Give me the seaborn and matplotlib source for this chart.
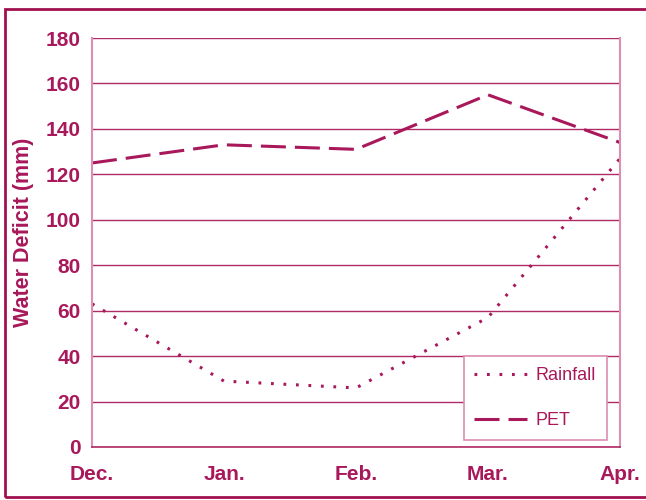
import matplotlib
matplotlib.use("Agg")
import matplotlib.pyplot as plt
import seaborn as sns
import pandas as pd
from matplotlib.patches import Rectangle

months = ["Dec.", "Jan.", "Feb.", "Mar.", "Apr."]
rainfall = [63, 29, 26, 57, 127]
pet = [125, 133, 131, 155, 134]
y_ticks = [0, 20, 40, 60, 80, 100, 120, 140, 160, 180]

MAG = "#A8185A"
GRID = "#B02A66"
SPINE = "#DC8FB2"

sns.set_theme(style="white")
plt.rcParams["font.family"] = ["Liberation Sans", "DejaVu Sans"]
plt.rcParams["lines.scale_dashes"] = False

DOT = (2.0, 7.0)
DASH = (18, 6.5)

df = pd.DataFrame({"pos": range(len(months)), "month": months,
                   "Rainfall": rainfall, "PET": pet})
long = df.melt(id_vars=["pos", "month"], value_vars=["Rainfall", "PET"],
               var_name="series", value_name="value")

fig = plt.figure(figsize=(6.46, 5.0), dpi=100)
ax = fig.add_axes([92/646, 53/500, 528/646, 409/500])

sns.lineplot(data=long, x="pos", y="value", hue="series", style="series",
             palette={"Rainfall": MAG, "PET": MAG},
             dashes={"Rainfall": DOT, "PET": DASH},
             linewidth=2.2, ax=ax, legend=True, sort=False)

ax.set_xlim(0, len(months) - 1)
ax.set_ylim(0, 180)
ax.set_yticks(y_ticks)
ax.set_xticks(range(len(months)))
ax.set_xticklabels(months)
ax.set_xlabel("")
ax.set_ylabel("Water Deficit (mm)", fontsize=15.5, fontweight="bold", color=MAG)
ax.yaxis.set_label_coords(-0.11, 0.525)
ax.grid(axis="y", color=GRID, linewidth=1.0)
ax.set_axisbelow(True)
ax.tick_params(axis="both", length=0, labelsize=15, labelcolor=MAG)
ax.tick_params(axis="x", pad=13)
ax.tick_params(axis="y", pad=8)
for lab in ax.get_xticklabels() + ax.get_yticklabels():
    lab.set_fontweight("bold")
for s in ["left", "right"]:
    ax.spines[s].set_color(SPINE)
    ax.spines[s].set_linewidth(1.5)
ax.spines["top"].set_visible(False)
ax.spines["bottom"].set_color(GRID)
ax.spines["bottom"].set_linewidth(1.2)

for line in ax.get_lines():
    line.set_dash_capstyle("butt")

handles, labels = ax.get_legend_handles_labels()
leg = ax.legend(handles, labels, loc="lower right", bbox_to_anchor=(607/646, 60/500),
                bbox_transform=fig.transFigure, fontsize=13, frameon=True, fancybox=False,
                framealpha=1.0, facecolor="white",
                edgecolor=SPINE, labelcolor=MAG, handlelength=2.9, handletextpad=0.5,
                labelspacing=1.55, borderpad=0.6, borderaxespad=0)
leg.get_frame().set_linewidth(1.2)
for h, lab in zip(leg.get_lines(), labels):
    h.set_linewidth(2.2)
    h.set_dash_capstyle("butt")
    h.set_dashes(DOT if lab == "Rainfall" else DASH)

fig.patches.append(Rectangle((5/646, 3/500), 2.0, 488/500, transform=fig.transFigure,
                             fill=False, edgecolor="#A0104E", linewidth=2.0))

fig.savefig("out.png", dpi=100, facecolor="white")
